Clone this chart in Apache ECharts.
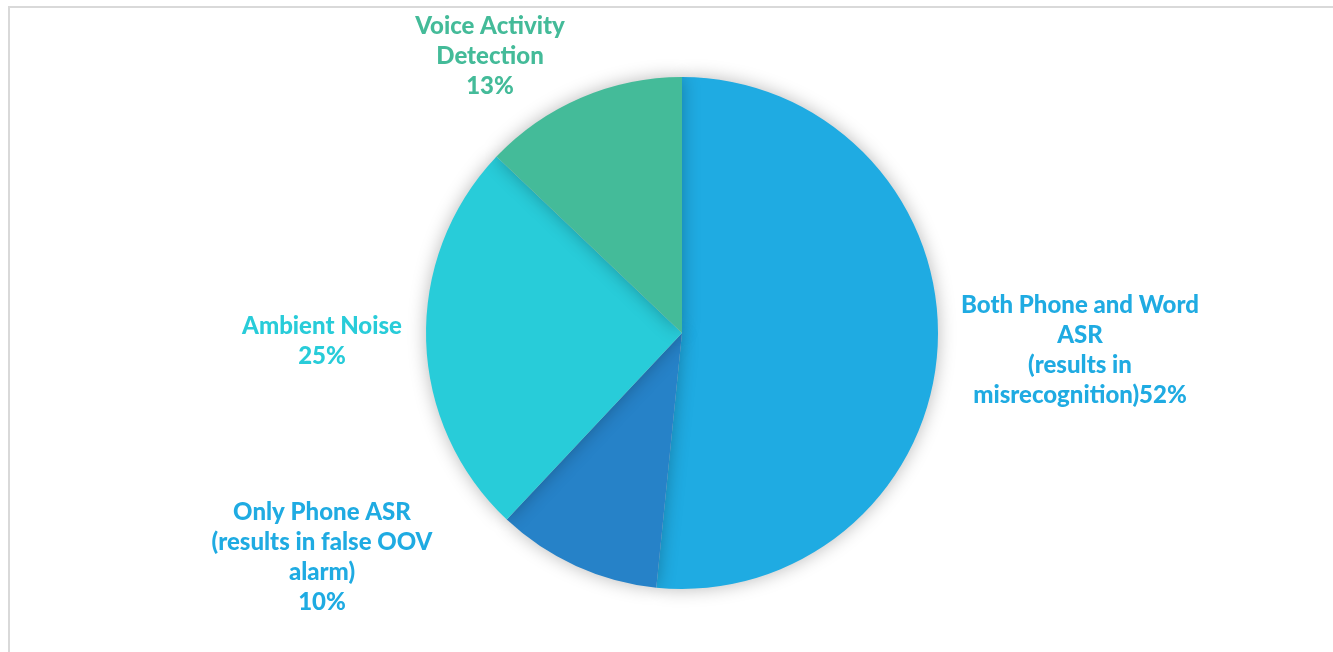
<!DOCTYPE html>
<html>
<head>
<meta charset="utf-8">
<title>Error sources pie</title>
<script src="https://cdn.jsdelivr.net/npm/echarts@6/dist/echarts.min.js"></script>
<style>
  html, body { margin: 0; padding: 0; background: #fff; overflow: hidden; }
  #frame { position: absolute; left: 8px; top: 6px; width: 1400px; height: 700px;
           border-top: 2px solid #d9d9d9; border-left: 2px solid #d9d9d9; }
  #chart { position: absolute; left: 0; top: 0; width: 1333px; height: 652px; }
</style>
</head>
<body>
<div id="frame"></div>
<div id="chart"></div>
<script>
// slices, clockwise from 12 o'clock
var names = [
  'Both Phone and Word\nASR\n(results in\nmisrecognition)',
  'Only Phone ASR\n(results in false OOV\nalarm)',
  'Ambient Noise',
  'Voice Activity\nDetection'
];
var values = [51.6, 10.4, 25.1, 12.9];
var colors = ['#1fabe2', '#2682c8', '#28ccd9', '#44bb99'];
var labelColors = ['#1fabe2', '#1fabe2', '#28ccd9', '#44bb99'];
var pctSep = ['', '\n', '\n', '\n'];

// label anchor (text center x, top y)
var labelAnchor = [[1080, 290], [322, 497], [322, 311], [490, 11]];

var chart = echarts.init(document.getElementById('chart'));

var data = names.map(function (n, i) {
  return {
    name: n,
    value: values[i],
    itemStyle: { color: colors[i] },
    label: { color: labelColors[i] }
  };
});

chart.setOption({
  animation: false,
  series: [{
    type: 'pie',
    center: [682, 333],
    radius: [0, 256],
    startAngle: 90,
    clockwise: true,
    percentPrecision: 0,
    data: data,
    itemStyle: {
      borderWidth: 0,
      shadowBlur: 18,
      shadowColor: 'rgba(0,0,0,0.28)'
    },
    label: {
      show: true,
      position: 'outside',
      fontFamily: 'Lato',
      fontWeight: 900,
      fontSize: 24,
      lineHeight: 30,
      align: 'center',
      formatter: function (p) {
        return p.name + pctSep[p.dataIndex] + p.percent + '%';
      }
    },
    labelLine: { show: false },
    labelLayout: function (p) {
      var a = labelAnchor[p.dataIndex];
      return { x: a[0], y: a[1], align: 'center', verticalAlign: 'top' };
    }
  }]
});
</script>
</body>
</html>
